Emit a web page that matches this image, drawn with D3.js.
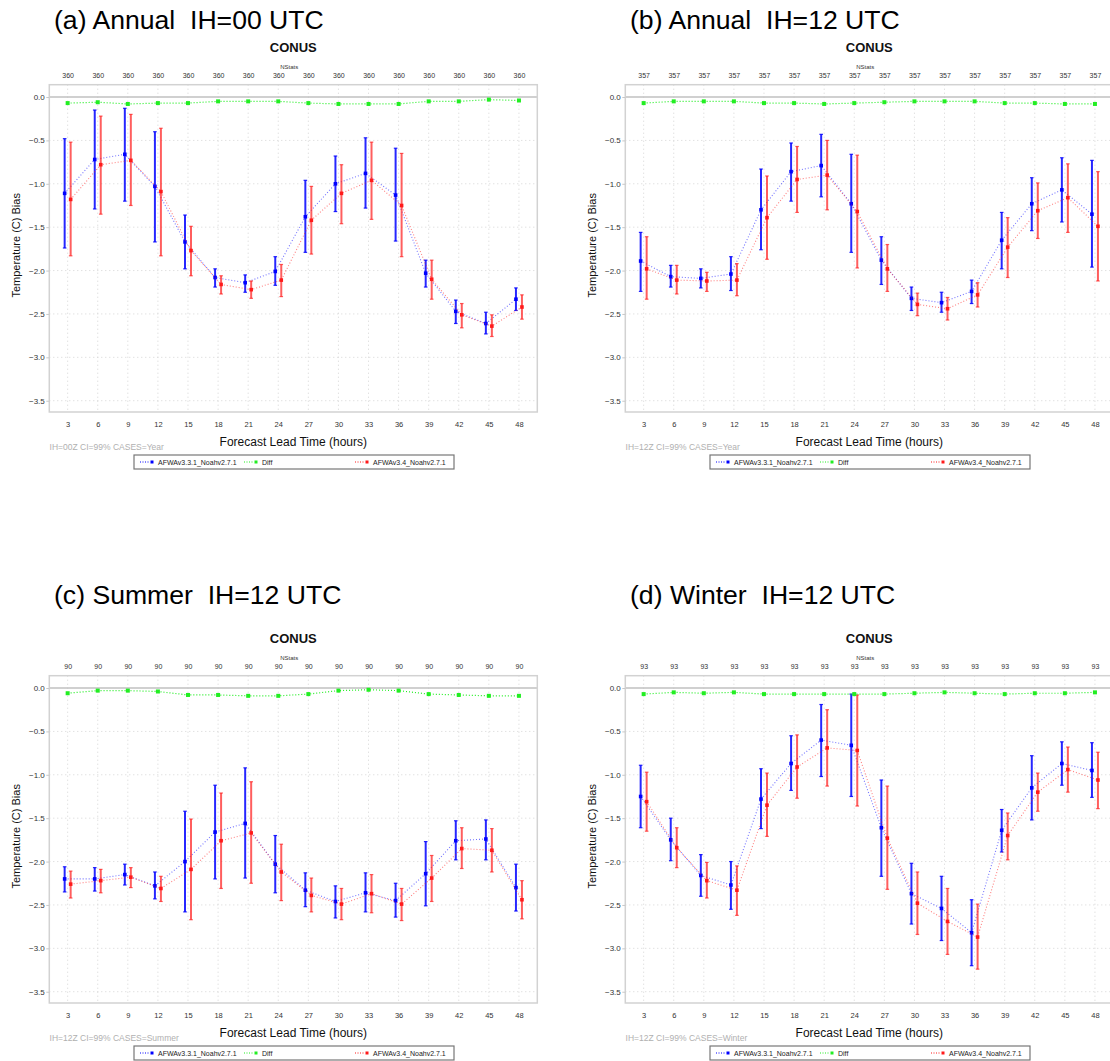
<!DOCTYPE html>
<html>
<head>
<meta charset="utf-8">
<script src="https://cdn.jsdelivr.net/npm/d3@7"></script>
<style>
html, body { margin: 0; padding: 0; background: #fff; }
svg { display: block; font-family: "Liberation Sans", Arial, sans-serif; }
</style>
</head>
<body>
<svg id="chart" width="1110" height="1061"></svg>
<script>
// ---- categories and labels ----
const leadHours = [3, 6, 9, 12, 15, 18, 21, 24, 27, 30, 33, 36, 39, 42, 45, 48];
const yTickValues = [0, -0.5, -1.0, -1.5, -2.0, -2.5, -3.0, -3.5];
const panelTitles = ["(a) Annual  IH=00 UTC", "(b) Annual  IH=12 UTC", "(c) Summer  IH=12 UTC", "(d) Winter  IH=12 UTC"];
const caseNotes = ["IH=00Z CI=99% CASES=Year", "IH=12Z CI=99% CASES=Year", "IH=12Z CI=99% CASES=Summer", "IH=12Z CI=99% CASES=Winter"];
const nStats = [360, 357, 90, 93];
const regionName = "CONUS";
const seriesNames = ["AFWAv3.3.1_Noahv2.7.1", "Diff", "AFWAv3.4_Noahv2.7.1"];

// ---- (a) Annual, IH=00 UTC ----
const annual00_v331 = [-1.11, -0.72, -0.66, -1.03, -1.67, -2.08, -2.14, -2.01, -1.38, -1.00, -0.88, -1.13, -2.03, -2.47, -2.61, -2.33];
const annual00_v331_lo = [-1.74, -1.29, -1.20, -1.67, -1.98, -2.19, -2.25, -2.17, -1.79, -1.32, -1.28, -1.66, -2.19, -2.61, -2.73, -2.46];
const annual00_v331_hi = [-0.48, -0.15, -0.13, -0.40, -1.36, -1.98, -2.05, -1.84, -0.96, -0.68, -0.47, -0.59, -1.88, -2.34, -2.48, -2.20];
const annual00_v34 = [-1.18, -0.78, -0.73, -1.09, -1.77, -2.16, -2.22, -2.11, -1.42, -1.11, -0.96, -1.25, -2.10, -2.51, -2.64, -2.42];
const annual00_v34_lo = [-1.83, -1.35, -1.25, -1.83, -2.06, -2.27, -2.32, -2.30, -1.81, -1.46, -1.41, -1.84, -2.33, -2.66, -2.76, -2.56];
const annual00_v34_hi = [-0.52, -0.22, -0.20, -0.36, -1.49, -2.06, -2.12, -1.93, -1.03, -0.78, -0.52, -0.65, -1.88, -2.38, -2.51, -2.28];
const annual00_diff = [-0.07, -0.06, -0.08, -0.07, -0.07, -0.05, -0.05, -0.05, -0.07, -0.08, -0.08, -0.08, -0.05, -0.05, -0.03, -0.04];

// ---- (b) Annual, IH=12 UTC ----
const annual12_v331 = [-1.89, -2.07, -2.09, -2.04, -1.30, -0.86, -0.79, -1.23, -1.88, -2.32, -2.37, -2.24, -1.65, -1.23, -1.07, -1.35];
const annual12_v331_lo = [-2.24, -2.19, -2.20, -2.23, -1.76, -1.20, -1.15, -1.79, -2.16, -2.46, -2.48, -2.38, -1.98, -1.54, -1.44, -1.96];
const annual12_v331_hi = [-1.56, -1.94, -1.98, -1.84, -0.83, -0.53, -0.43, -0.66, -1.61, -2.19, -2.25, -2.11, -1.33, -0.93, -0.70, -0.73];
const annual12_v34 = [-1.98, -2.11, -2.12, -2.11, -1.39, -0.95, -0.90, -1.32, -1.98, -2.39, -2.44, -2.28, -1.73, -1.31, -1.16, -1.49];
const annual12_v34_lo = [-2.33, -2.27, -2.24, -2.29, -1.87, -1.33, -1.30, -1.97, -2.24, -2.52, -2.57, -2.42, -2.08, -1.63, -1.56, -2.12];
const annual12_v34_hi = [-1.61, -1.94, -2.02, -1.92, -0.91, -0.57, -0.50, -0.67, -1.70, -2.26, -2.31, -2.14, -1.39, -0.99, -0.77, -0.86];
const annual12_diff = [-0.07, -0.05, -0.05, -0.05, -0.07, -0.07, -0.08, -0.07, -0.06, -0.05, -0.05, -0.05, -0.07, -0.07, -0.08, -0.08];

// ---- (c) Summer, IH=12 UTC ----
const summer12_v331 = [-2.20, -2.20, -2.15, -2.28, -2.00, -1.66, -1.56, -2.03, -2.33, -2.46, -2.36, -2.45, -2.14, -1.76, -1.74, -2.30];
const summer12_v331_lo = [-2.35, -2.34, -2.27, -2.43, -2.58, -2.20, -2.19, -2.36, -2.52, -2.65, -2.58, -2.64, -2.51, -1.98, -1.98, -2.57];
const summer12_v331_hi = [-2.06, -2.07, -2.03, -2.12, -1.42, -1.12, -0.92, -1.70, -2.13, -2.28, -2.13, -2.25, -1.77, -1.53, -1.52, -2.03];
const summer12_v34 = [-2.26, -2.22, -2.18, -2.31, -2.09, -1.76, -1.67, -2.12, -2.39, -2.49, -2.37, -2.49, -2.19, -1.85, -1.87, -2.44];
const summer12_v34_lo = [-2.42, -2.36, -2.30, -2.46, -2.67, -2.31, -2.25, -2.45, -2.58, -2.67, -2.59, -2.68, -2.46, -2.08, -2.12, -2.66];
const summer12_v34_hi = [-2.11, -2.09, -2.07, -2.17, -1.51, -1.21, -1.08, -1.80, -2.19, -2.31, -2.15, -2.31, -1.93, -1.61, -1.62, -2.22];
const summer12_diff = [-0.06, -0.03, -0.03, -0.04, -0.08, -0.08, -0.09, -0.09, -0.07, -0.03, -0.02, -0.03, -0.07, -0.08, -0.09, -0.09];

// ---- (d) Winter, IH=12 UTC ----
const winter12_v331 = [-1.25, -1.75, -2.16, -2.27, -1.28, -0.87, -0.60, -0.66, -1.61, -2.37, -2.54, -2.82, -1.64, -1.15, -0.87, -0.95];
const winter12_v331_lo = [-1.61, -1.99, -2.40, -2.55, -1.62, -1.18, -1.02, -1.25, -2.17, -2.72, -2.91, -3.20, -1.89, -1.52, -1.12, -1.26];
const winter12_v331_hi = [-0.89, -1.50, -1.92, -2.00, -0.93, -0.55, -0.19, -0.07, -1.06, -2.02, -2.17, -2.44, -1.40, -0.78, -0.62, -0.63];
const winter12_v34 = [-1.31, -1.84, -2.22, -2.33, -1.35, -0.91, -0.69, -0.72, -1.73, -2.48, -2.69, -2.87, -1.70, -1.20, -0.94, -1.06];
const winter12_v34_lo = [-1.65, -2.07, -2.42, -2.62, -1.71, -1.27, -1.13, -1.36, -2.32, -2.84, -3.07, -3.24, -1.98, -1.42, -1.20, -1.39];
const winter12_v34_hi = [-0.97, -1.61, -2.01, -2.05, -0.98, -0.54, -0.25, -0.08, -1.13, -2.12, -2.31, -2.49, -1.44, -0.98, -0.68, -0.74];
const winter12_diff = [-0.07, -0.05, -0.06, -0.05, -0.07, -0.07, -0.07, -0.07, -0.07, -0.06, -0.05, -0.06, -0.07, -0.06, -0.06, -0.05];

// ---- assemble panels ----
const panels = [
  { old: [annual00_v331, annual00_v331_lo, annual00_v331_hi], neu: [annual00_v34, annual00_v34_lo, annual00_v34_hi], diff: annual00_diff },
  { old: [annual12_v331, annual12_v331_lo, annual12_v331_hi], neu: [annual12_v34, annual12_v34_lo, annual12_v34_hi], diff: annual12_diff },
  { old: [summer12_v331, summer12_v331_lo, summer12_v331_hi], neu: [summer12_v34, summer12_v34_lo, summer12_v34_hi], diff: summer12_diff },
  { old: [winter12_v331, winter12_v331_lo, winter12_v331_hi], neu: [winter12_v34, winter12_v34_lo, winter12_v34_hi], diff: winter12_diff }
].map((p, i) => Object.assign(p, { title: panelTitles[i], note: caseNotes[i], nstat: nStats[i] }));

// ---- layout ----
const panelOrigins = [[0, 0], [576, 0], [0, 591], [576, 591]];
const titleBaselines = [29.3, 29.3, 12.8, 12.8]; // heading baseline relative to each panel origin
const plot = { left: 49.3, right: 537.3, top: 84.7, bottom: 412 };
const plotMidX = (plot.left + plot.right) / 2;
const seriesOffset = 3; // horizontal shift of the two model series around each lead time

const colors = { old: "#0000ff", neu: "#ff1a1a", diff: "#22ee22" };

const x = d3.scaleLinear().domain([1.17, 49.83]).range([plot.left, plot.right]);
const y = d3.scaleLinear().domain([0.142, -3.63]).range([plot.top, plot.bottom]);

const svg = d3.select("#chart");

panels.forEach((p, pi) => {
  const [ox, oy] = panelOrigins[pi];
  const g = svg.append("g").attr("transform", `translate(${ox},${oy})`);

  // panel heading
  g.append("text").attr("x", 54).attr("y", titleBaselines[pi])
    .attr("font-size", 26.6).attr("fill", "#000")
    .style("white-space", "pre").text(p.title);

  // region title and NStats caption
  g.append("text").attr("x", plotMidX).attr("y", 52.3).attr("text-anchor", "middle")
    .attr("font-size", 13).attr("font-weight", "bold").attr("fill", "#111").text(regionName);
  g.append("text").attr("x", plotMidX - 4).attr("y", 69).attr("text-anchor", "middle")
    .attr("font-size", 6).attr("fill", "#333").text("NStats");

  // grid lines
  const grid = g.append("g").attr("stroke", "#d4d4d4").attr("stroke-width", 1).attr("stroke-dasharray", "1,3");
  grid.selectAll("line.v").data(leadHours).join("line").attr("class", "v")
    .attr("x1", d => x(d)).attr("x2", d => x(d)).attr("y1", plot.top).attr("y2", plot.bottom);
  grid.selectAll("line.h").data(yTickValues.slice(1)).join("line").attr("class", "h")
    .attr("x1", plot.left).attr("x2", plot.right).attr("y1", d => y(d)).attr("y2", d => y(d));

  // zero reference line
  g.append("line").attr("x1", plot.left).attr("x2", plot.right)
    .attr("y1", y(0)).attr("y2", y(0)).attr("stroke", "#c0c0c0").attr("stroke-width", 1.6);

  // frame
  g.append("rect").attr("x", plot.left).attr("y", plot.top)
    .attr("width", plot.right - plot.left).attr("height", plot.bottom - plot.top)
    .attr("fill", "none").attr("stroke", "#d2d2d2").attr("stroke-width", 1.5);

  // y axis
  const yAxis = g.append("g").attr("transform", `translate(${plot.left},0)`)
    .call(d3.axisLeft(y).tickValues(yTickValues).tickFormat(d3.format(".1f")).tickSize(3).tickPadding(1.5));
  yAxis.select(".domain").remove();
  yAxis.selectAll(".tick line").attr("stroke", "#c8c8c8");
  yAxis.selectAll(".tick text").attr("font-size", 8).attr("fill", "#333")
    .attr("font-family", "Liberation Sans, Arial, sans-serif");

  // x axis (lead time)
  const xAxis = g.append("g").attr("transform", `translate(0,${plot.bottom})`)
    .call(d3.axisBottom(x).tickValues(leadHours).tickFormat(d3.format("d")).tickSize(0).tickPadding(9.7));
  xAxis.select(".domain").remove();
  xAxis.selectAll(".tick text").attr("font-size", 7.5).attr("fill", "#333")
    .attr("font-family", "Liberation Sans, Arial, sans-serif");

  // top axis: number of stats per lead time
  const topAxis = g.append("g").attr("transform", `translate(0,${plot.top})`)
    .call(d3.axisTop(x).tickValues(leadHours).tickFormat(() => p.nstat).tickSize(0).tickPadding(7.2));
  topAxis.select(".domain").remove();
  topAxis.selectAll(".tick text").attr("font-size", 7).attr("fill", "#333")
    .attr("font-family", "Liberation Sans, Arial, sans-serif");

  // axis titles
  g.append("text").attr("transform", `translate(20,${(plot.top + plot.bottom) / 2 - 3}) rotate(-90)`)
    .attr("text-anchor", "middle").attr("font-size", 11).attr("fill", "#111")
    .text("Temperature (C) Bias");
  g.append("text").attr("x", plotMidX).attr("y", 445.5).attr("text-anchor", "middle")
    .attr("font-size", 12).attr("fill", "#111").text("Forecast Lead Time (hours)");
  g.append("text").attr("x", 49.6).attr("y", 449.5)
    .attr("font-size", 8.5).attr("fill", "#b0b0b0").text(p.note);

  // model series: dotted connecting line, CI bars, mean markers
  const drawSeries = (vals, color, dx, barOpacity) => {
    const [mean, lo, hi] = vals;
    const pts = leadHours.map((h, i) => ({ h, m: mean[i], lo: lo[i], hi: hi[i] }));
    g.append("path").datum(pts)
      .attr("d", d3.line().x(d => x(d.h) + dx).y(d => y(d.m)))
      .attr("fill", "none").attr("stroke", color).attr("stroke-opacity", 0.55)
      .attr("stroke-width", 1.1).attr("stroke-dasharray", "1,2");
    const bars = g.append("g").attr("stroke", color).attr("stroke-opacity", barOpacity);
    bars.selectAll("line.bar").data(pts).join("line").attr("class", "bar")
      .attr("x1", d => x(d.h) + dx).attr("x2", d => x(d.h) + dx)
      .attr("y1", d => y(d.hi)).attr("y2", d => y(d.lo)).attr("stroke-width", 2);
    bars.selectAll("line.capt").data(pts).join("line").attr("class", "capt")
      .attr("x1", d => x(d.h) + dx - 1.8).attr("x2", d => x(d.h) + dx + 1.8)
      .attr("y1", d => y(d.hi)).attr("y2", d => y(d.hi)).attr("stroke-width", 1.2);
    bars.selectAll("line.capb").data(pts).join("line").attr("class", "capb")
      .attr("x1", d => x(d.h) + dx - 1.8).attr("x2", d => x(d.h) + dx + 1.8)
      .attr("y1", d => y(d.lo)).attr("y2", d => y(d.lo)).attr("stroke-width", 1.2);
    g.append("g").selectAll("rect").data(pts).join("rect")
      .attr("x", d => x(d.h) + dx - 1.8).attr("y", d => y(d.m) - 1.8)
      .attr("width", 3.6).attr("height", 3.6).attr("fill", color);
  };
  drawSeries(p.old, colors.old, -seriesOffset, 0.85);
  drawSeries(p.neu, colors.neu, seriesOffset, 0.7);

  // difference series
  const dpts = leadHours.map((h, i) => ({ h, v: p.diff[i] }));
  g.append("path").datum(dpts)
    .attr("d", d3.line().x(d => x(d.h)).y(d => y(d.v)))
    .attr("fill", "none").attr("stroke", colors.diff).attr("stroke-width", 1.2)
    .attr("stroke-dasharray", "1,2");
  g.append("g").selectAll("rect").data(dpts).join("rect")
    .attr("x", d => x(d.h) - 2).attr("y", d => y(d.v) - 2)
    .attr("width", 4).attr("height", 4).attr("fill", colors.diff);

  // legend
  const lg = g.append("g").attr("transform", "translate(134,455)");
  lg.append("rect").attr("x", 0).attr("y", 0).attr("width", 320).attr("height", 14)
    .attr("fill", "#fff").attr("stroke", "#777").attr("stroke-width", 1.2);
  const legendCols = [0, 104, 215];
  const legendColors = [colors.old, colors.diff, colors.neu];
  seriesNames.forEach((name, i) => {
    const lx = legendCols[i];
    lg.append("line").attr("x1", lx + 6).attr("x2", lx + 16).attr("y1", 7).attr("y2", 7)
      .attr("stroke", legendColors[i]).attr("stroke-width", 1).attr("stroke-dasharray", "1,1.5");
    lg.append("rect").attr("x", lx + 16.5).attr("y", 5.5).attr("width", 3).attr("height", 3)
      .attr("fill", legendColors[i]);
    lg.append("text").attr("x", lx + 24).attr("y", 9.5).attr("font-size", 7).attr("fill", "#222").text(name);
  });
});
</script>
</body>
</html>
